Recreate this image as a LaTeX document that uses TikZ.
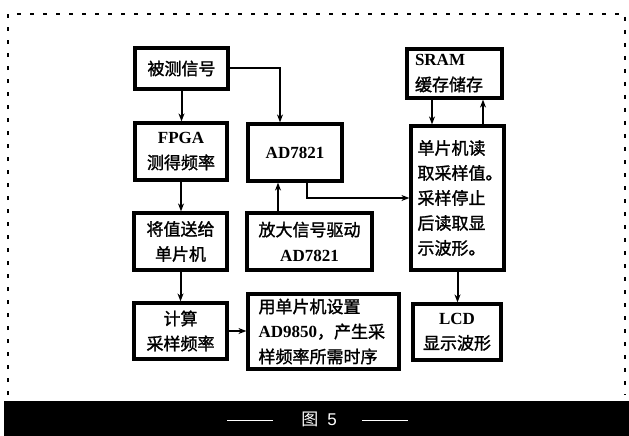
\documentclass[tikz,border=0pt]{standalone}
\usepackage{fontspec}
\setmainfont{Liberation Serif}
\newfontfamily\cjk[FakeBold=1.5]{Noto Sans CJK SC}
\newfontfamily\cjklight{Noto Sans CJK SC}
\newfontfamily\capfont{Liberation Sans}
\usetikzlibrary{arrows.meta}
\newcommand\lat[1]{{\rmfamily\bfseries #1}}
\tikzset{
  box/.style={draw=black, line width=3.2pt, inner sep=0pt, align=center,
    font=\cjk\fontsize{17}{25}\selectfont},
  arr/.style={line width=2pt, -{Stealth[length=8pt,width=6pt]}},
  capline/.style={white, line width=0.8pt}
}
\begin{document}
\begin{tikzpicture}[x=1pt,y=-1pt]
\useasboundingbox (0,0) rectangle (629,436);
% frame
\draw[line width=2pt, dash pattern=on 4pt off 9pt] (8,395) -- (8,14) -- (625,14) -- (625,395);
\fill[black] (4,401) rectangle (629,436);
% boxes
\node[box, minimum width=93pt, minimum height=41pt] (a) at (181.5,68.5) {被测信号};
\node[box, minimum width=92pt, minimum height=57pt] (b) at (181,151.5) {\lat{FPGA}\\测得频率};
\node[box, minimum width=94pt, minimum height=57pt] (c) at (295,152.5) {\lat{AD7821}};
\node[box, minimum width=95pt, minimum height=49pt, align=left, text width=79pt] (d) at (454.5,73.5) {\lat{SRAM}\\缓存储存};
\node[box, minimum width=93pt, minimum height=144pt, align=left, text width=80pt] (e) at (457.5,198) {单片机读\\取采样值。\\采样停止\\后读取显\\示波形。};
\node[box, minimum width=93pt, minimum height=57pt] (f) at (180.5,241.5) {将值送给\\单片机};
\node[box, minimum width=125pt, minimum height=57pt] (g) at (309.5,241.5) {放大信号驱动\\\lat{AD7821}};
\node[box, minimum width=93pt, minimum height=56pt] (h) at (180.5,331) {计算\\采样频率};
\node[box, minimum width=151pt, minimum height=75pt, align=left, text width=130pt] (i) at (323.5,331.5) {用单片机设置\\\lat{AD9850}，产生采\\样频率所需时序};
\node[box, minimum width=88pt, minimum height=56pt] (j) at (457,332) {\lat{LCD}\\显示波形};
% connectors
\draw[arr] (a.south) -- (a.south |- b.north);
\draw[arr] (a.east) -| ([xshift=-15pt]c.north);
\draw[arr] (b.south) -- (b.south |- f.north);
\draw[arr] (f.south) -- (h.north);
\draw[arr] (h.east) -- (h.east -| i.west);
\draw[arr] ([xshift=-31.5pt]g.north) -- ([xshift=-31.5pt]g.north |- c.south);
\draw[arr] ([xshift=12pt]c.south) |- (e.west);
\draw[arr] ([xshift=-22.5pt]d.south) -- ([xshift=-22.5pt]d.south |- e.north);
\draw[arr] ([xshift=25.5pt]e.north) -- ([xshift=25.5pt]e.north |- d.south);
\draw[arr] (e.south) -- (e.south |- j.north);
% caption
\coordinate (l1a) at (227,420); \coordinate (l1b) at (273,420);
\coordinate (l2a) at (362,420); \coordinate (l2b) at (408,420);
\draw[capline] (l1a) -- (l1b);
\draw[capline] (l2a) -- (l2b);
\node[text=white, font=\fontsize{17}{20}\selectfont] (cap) at (319,419) {{\cjklight 图}\hspace{9pt}{\capfont 5}};
\end{tikzpicture}
\end{document}
